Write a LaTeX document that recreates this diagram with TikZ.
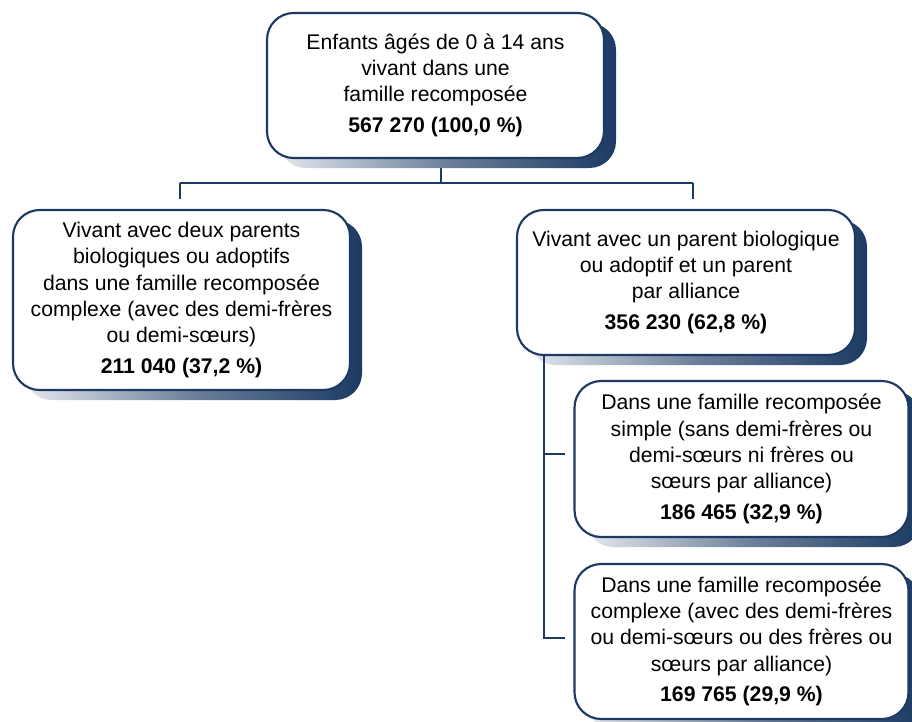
\documentclass[tikz,border=0pt]{standalone}
\usepackage{fontspec}
\setmainfont{Liberation Sans}
\usetikzlibrary{shadows,backgrounds}
\definecolor{navy}{HTML}{1C3A63}
\tikzset{
  box/.style={draw=navy, line width=1.6pt, fill=white, rounded corners=20pt,
    inner sep=0pt, align=center,
    font=\fontsize{15.9}{19.7}\selectfont,
    general shadow={shadow xshift=9pt, shadow yshift=-7.5pt,
      left color=navy!12, right color=navy, middle color=navy!65}},
  conn/.style={draw=navy, line width=1.2pt, line join=miter},
}
\begin{document}
\begin{tikzpicture}[x=0.75pt,y=-0.75pt]
\useasboundingbox (0,0) rectangle (912,721);
\node[box, minimum width=252.75pt, minimum height=108.75pt] (top) at (435.5,85.5)
  {Enfants âgés de 0 à 14 ans\\ vivant dans une\\ famille recomposée\\[3.5pt] \textbf{567 270 (100,0 \%)}};
\node[box, minimum width=252.75pt, minimum height=135pt] (left) at (181.5,300)
  {Vivant avec deux parents\\ biologiques ou adoptifs\\ dans une famille recomposée\\ complexe (avec des demi-frères\\ ou demi-sœurs)\\[3.5pt] \textbf{211 040 (37,2 \%)}};
\node[box, minimum width=253.5pt, minimum height=108.75pt] (right) at (686,282.5)
  {Vivant avec un parent biologique\\ ou adoptif et un parent\\ par alliance\\[3.5pt] \textbf{356 230 (62,8 \%)}};
\node[box, minimum width=250.5pt, minimum height=117pt] (b3) at (741.5,459)
  {Dans une famille recomposée\\ simple (sans demi-frères ou\\ demi-sœurs ni frères ou\\ sœurs par alliance)\\[3.5pt] \textbf{186 465 (32,9 \%)}};
\node[box, minimum width=250.5pt, minimum height=116.25pt] (b4) at (741.5,641.5)
  {Dans une famille recomposée\\ complexe (avec des demi-frères\\ ou demi-sœurs ou des frères ou\\ sœurs par alliance)\\[3.5pt] \textbf{169 765 (29,9 \%)}};
\coordinate (jt) at (441,183);
\coordinate (jl) at (180,183);
\coordinate (jr) at (693,183);
\coordinate (j3) at (544,454);
\coordinate (j4) at (544,638);
\begin{scope}[on background layer]
\draw[conn] (top.south -| jt) -- (jt);
\draw[conn] (jl) -- (jr);
\draw[conn, shorten >=7.5pt] (jl) -- (left.north -| jl);
\draw[conn, shorten >=7.5pt] (jr) -- (right.north -| jr);
\end{scope}
\draw[conn] (right.south -| j4) -- (j4) -- ([xshift=-6pt]j4 -| b4.west);
\draw[conn, shorten >=6pt] (j3) -- (j3 -| b3.west);
\end{tikzpicture}
\end{document}
